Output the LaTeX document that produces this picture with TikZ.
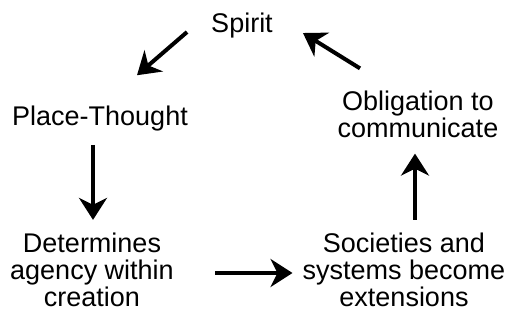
\documentclass[tikz,border=0pt]{standalone}
\usepackage{fontspec}
\setmainfont{Liberation Sans}
\usetikzlibrary{arrows.meta,positioning}

\begin{document}
\begin{tikzpicture}[x=1pt, y=-1pt,
    every node/.style={font=\fontsize{27}{27}\selectfont, align=center, inner sep=0pt},
    arr/.style={-{Stealth[length=22pt, width=28pt, inset=7pt]}, line width=4pt}]
      \useasboundingbox (0,0) rectangle (511,326);

      \node[anchor=base] (spirit) at (242,33) {Spirit};
      \node[anchor=base] (place) at (100,125) {Place-Thought};
      \node (determ) at (92,270) {Determines\\agency within\\creation};

      \node (soc) at (404,270) {Societies and\\systems become\\extensions};
      \node (obl) at (418,114) {Obligation to\\communicate};

      \draw[arr] ([shift={(-24,6)}]spirit.west) -- ([shift={(37,-30)}]place.north);
      \draw[arr] ([shift={(-7,14)}]place.south) -- ([shift={(1,-13)}]determ.north);
      \draw[arr] ([shift={(41,3)}]determ.east) -- ([shift={(-10,3)}]soc.west);
      \draw[arr] ([shift={(11,-13)}]soc.north) -- ([shift={(-3,16)}]obl.south);
      \draw[arr] ([shift={(-58,-22)}]obl.north) -- ([shift={(30,7)}]spirit.east);
    \end{tikzpicture}
\end{document}
